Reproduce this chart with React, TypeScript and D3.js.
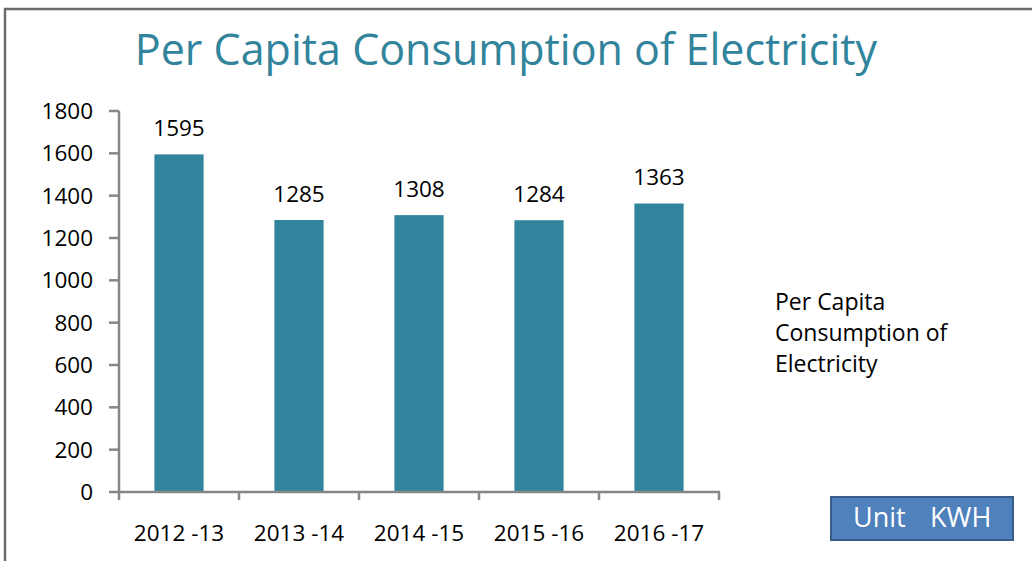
import React from "react";
import * as d3 from "d3";

const categories = ["2012 -13", "2013 -14", "2014 -15", "2015 -16", "2016 -17"];
const values = [1595, 1285, 1308, 1284, 1363];
const yTicks = [0, 200, 400, 600, 800, 1000, 1200, 1400, 1600, 1800];
const legendLines = ["Per Capita", "Consumption of", "Electricity"];
const titleText = "Per Capita Consumption of Electricity";
const unitWords = ["Unit", "KWH"];

const W = 1032, H = 561;
const FONT = "'Open Sans', sans-serif";

export default function App() {
  const x = d3.scaleBand<string>().domain(categories).range([119, 719]).paddingInner(0.59).paddingOuter(0.295);
  const y = d3.scaleLinear().domain([0, 1800]).range([492, 111]);
  const bounds = d3.range(categories.length + 1).map((i) => 119 + i * 120);
  return (
    <svg width={W} height={H} style={{ position: "absolute", left: 0, top: 0, background: "#fff" }}>
      <rect x={5} y={9} width={W + 10} height={H + 10} fill="#fff" stroke="#6b6b6b" strokeWidth={2.5} />
      <text x={506} y={65} textAnchor="middle" fontFamily={FONT} fontSize={43} fill="#31849B">{titleText}</text>
      {/* y axis */}
      <line x1={119} x2={119} y1={y(1800)} y2={y(0)} stroke="#868686" strokeWidth={2.5} />
      {yTicks.map((t) => (
        <g key={t}>
          <line x1={109} x2={119} y1={y(t)} y2={y(t)} stroke="#868686" strokeWidth={2.5} />
          <text x={93} y={y(t)} dy="0.35em" textAnchor="end" fontFamily={FONT} fontSize={22.5} fill="#000">{t}</text>
        </g>
      ))}
      {/* bars */}
      {categories.map((c, i) => (
        <g key={c}>
          <rect x={x(c)} y={y(values[i])} width={x.bandwidth()} height={y(0) - y(values[i])} fill="#31849B" />
          <text x={(x(c) as number) + x.bandwidth() / 2} y={y(values[i]) - 26} dy="0.35em" textAnchor="middle" fontFamily={FONT} fontSize={22.5} fill="#000">{values[i]}</text>
          <text x={(x(c) as number) + x.bandwidth() / 2} y={533} dy="0.35em" textAnchor="middle" fontFamily={FONT} fontSize={22.5} fill="#000">{c}</text>
        </g>
      ))}
      {/* x axis */}
      <line x1={118} x2={720} y1={y(0)} y2={y(0)} stroke="#868686" strokeWidth={2.5} />
      {bounds.map((b) => (
        <line key={b} x1={b} x2={b} y1={y(0)} y2={y(0) + 8} stroke="#868686" strokeWidth={2.5} />
      ))}
      {/* legend */}
      {legendLines.map((l, i) => (
        <text key={l} x={775} y={302 + i * 31} dy="0.35em" fontFamily={FONT} fontSize={23} fill="#000">{l}</text>
      ))}
      {/* unit box */}
      <rect x={831} y={497} width={182} height={43} fill="#4F81BD" stroke="#385D8A" strokeWidth={2} />
      <text x={853} y={518} dy="0.35em" fontFamily={FONT} fontSize={27} fill="#fff">{unitWords[0]}</text>
      <text x={930} y={518} dy="0.35em" fontFamily={FONT} fontSize={27} fill="#fff">{unitWords[1]}</text>
    </svg>
  );
}
